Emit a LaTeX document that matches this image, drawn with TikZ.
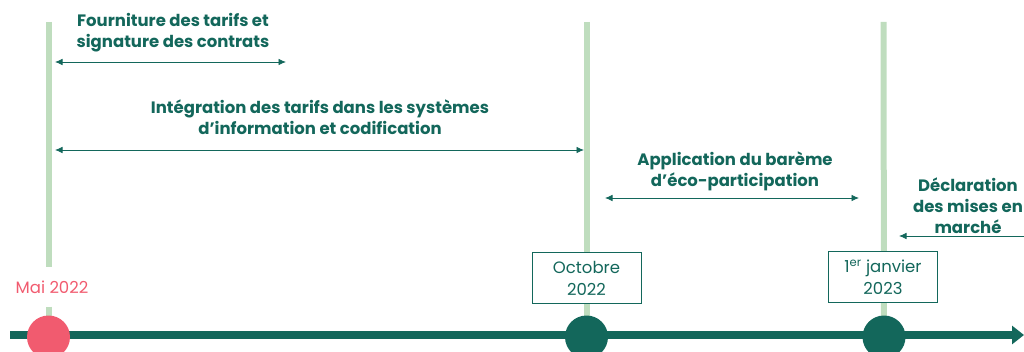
\documentclass[tikz,border=0pt]{standalone}
\usepackage{fontspec}
\setmainfont{Poppins}
\usetikzlibrary{arrows.meta,positioning,backgrounds}
\definecolor{darkteal}{HTML}{13675B}
\definecolor{palegreen}{HTML}{BFDDBE}
\definecolor{rosered}{HTML}{F15B6F}

\begin{document}
\begin{tikzpicture}[x=1pt, y=-1pt,
    phase/.style={text=darkteal, font=\bfseries\fontsize{16.5}{21}\selectfont, align=center, inner sep=0pt},
    datebox/.style={draw=darkteal, line width=0.9pt, fill=white, text=darkteal, align=center,
        font=\fontsize{16.5}{22}\selectfont, minimum width=109pt, minimum height=51pt, inner sep=0pt},
    span/.style={darkteal, line width=0.8pt, {Latex[length=7.5pt,width=6.5pt]}-{Latex[length=7.5pt,width=6.5pt]}},
    milestone/.style={palegreen, line width=6pt},
    dot/.style={circle, minimum size=43pt, inner sep=0pt}]
    \clip (0,0) rectangle (1024,352);

    % Nodes
    \node (mai) [text=rosered, font=\fontsize{16.5}{18}\selectfont, inner sep=0pt, minimum height=39pt] at (52,287) {Mai 2022};
    \node (oct) [datebox] at (586.5,278) {Octobre\\2022};
    \node (jan) [datebox] at (883,277) {1\textsuperscript{er} janvier\\2023};
    \node (dotmai) [dot, fill=rosered] at (48.5,337) {};
    \node (dotoct) [dot, fill=darkteal] at (586.5,337) {};
    \node (dotjan) [dot, fill=darkteal] at (884,337) {};

    \node (fourn) [phase] at (173,33) {Fourniture des tarifs et\\signature des contrats};
    \node (integ) [phase] at (320,117) {Intégration des tarifs dans les systèmes\\d’information et codification};
    \node (appli) [phase] at (735,171) {Application du barème\\d’éco-participation};
    \node (decla) [phase] at (968,206) {Déclaration\\des mises en\\marché};

    \coordinate (topmai) at (48.5,22);
    \coordinate (topoct) at (586.5,22);
    \coordinate (topjan) at (883.5,22);
    \coordinate (axstart) at (10,335);
    \coordinate (axend) at (1024,335);

    \coordinate (fourn-l) at (55,62);
    \coordinate (fourn-r) at (286,62);
    \coordinate (integ-l) at (55,150);
    \coordinate (integ-r) at (584,150);
    \coordinate (appli-l) at (605,198);
    \coordinate (appli-r) at (859,198);
    \coordinate (decla-l) at (899,236);
    \coordinate (decla-r) at (1040,236);

    % Lines
    \begin{scope}[on background layer]
        \draw[milestone] (topmai) -- (topmai |- mai.north);
        \draw[milestone] (topmai |- mai.south) -- (dotmai.center);
        \draw[milestone] (topoct) -- (dotoct.center);
        \draw[milestone] (topjan) -- (dotjan.center);
        \draw[darkteal, line width=8.5pt, -{Triangle[length=12pt,width=18pt]}] (axstart) -- (axend);
    \end{scope}

    % Arrows
    \draw[span] (fourn-l) -- (fourn-r);
    \draw[span] (integ-l) -- (integ-r);
    \draw[span] (appli-l) -- (appli-r);
    \draw[span] (decla-l) -- (decla-r);
\end{tikzpicture}
\end{document}
